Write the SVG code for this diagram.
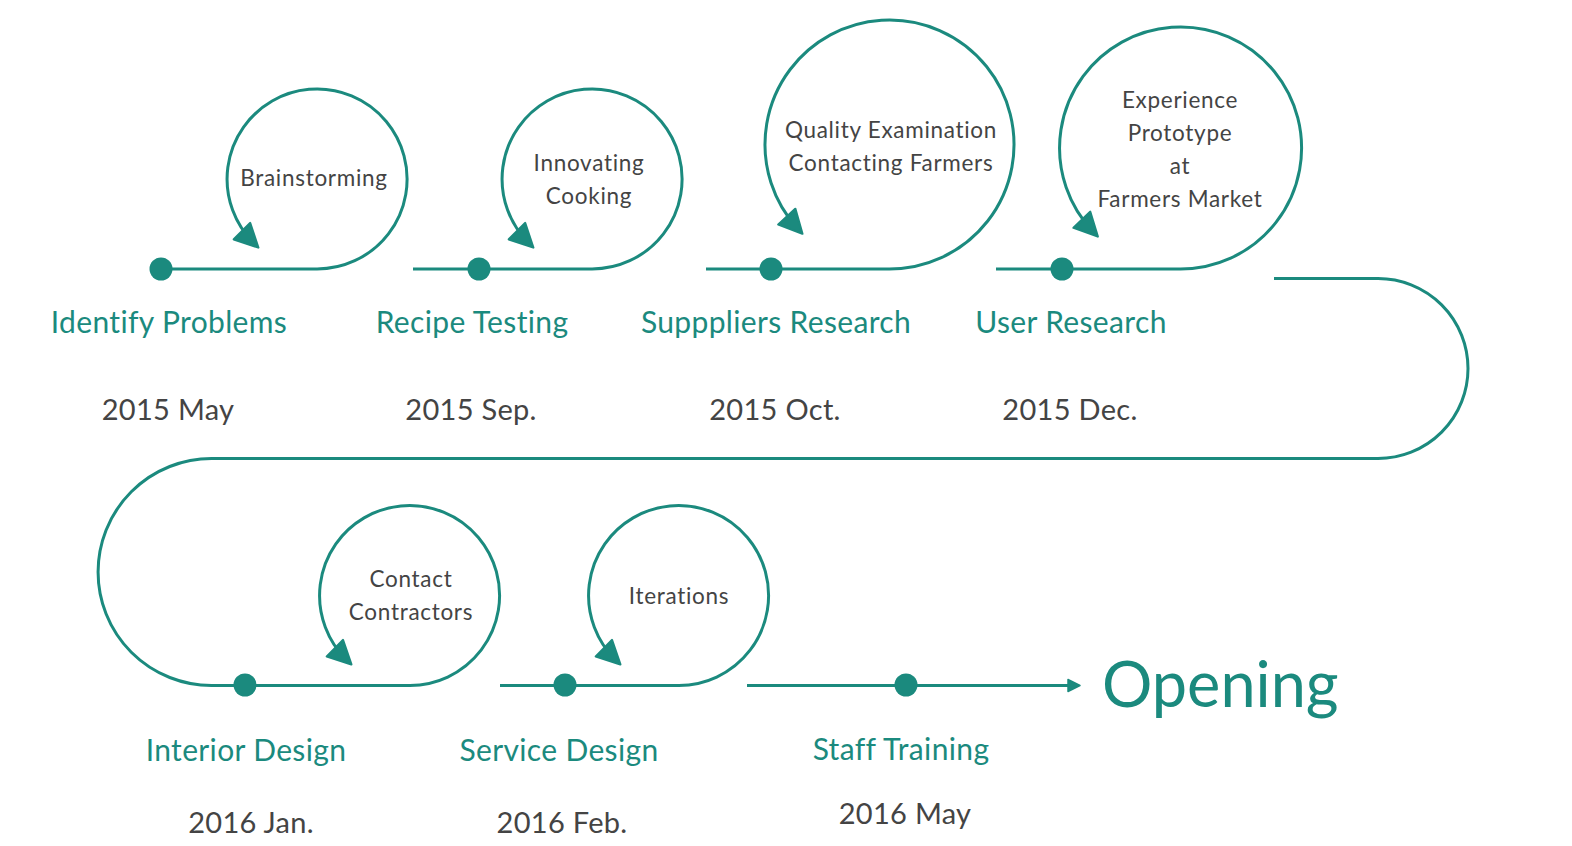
<svg xmlns="http://www.w3.org/2000/svg" width="1572" height="846" viewBox="0 0 1572 846">
<defs>
<style>
.ln{fill:none;stroke:#1b8a7e;stroke-width:3}
.dot{fill:#1b8a7e}
.lbl{font-family:Lato,"Open Sans","Liberation Sans",sans-serif;font-size:30px;letter-spacing:0.35px;fill:#1b8a7e;text-anchor:middle}
.date{font-family:Lato,"Open Sans","Liberation Sans",sans-serif;font-size:29px;letter-spacing:0.3px;fill:#444;text-anchor:middle}
.note{font-family:Lato,"Open Sans","Liberation Sans",sans-serif;font-size:22.5px;letter-spacing:0.7px;fill:#444;text-anchor:middle}
.big{font-family:Lato,"Open Sans","Liberation Sans",sans-serif;font-size:63px;fill:#1b8a7e}
</style>
<marker id="ah" markerUnits="userSpaceOnUse" markerWidth="30" markerHeight="30" viewBox="-16 -12 26 24" refX="0" refY="0" orient="auto">
<path d="M-14,-10 L6,0 L-14,10 Z" fill="#1b8a7e" stroke="#1b8a7e" stroke-width="2" stroke-linejoin="round"/>
</marker>
<marker id="ahs" markerUnits="userSpaceOnUse" markerWidth="16" markerHeight="16" viewBox="-6 -8 16 16" refX="0" refY="0" orient="auto">
<path d="M-4,-6 L8,0 L-4,6 Z" fill="#1b8a7e" stroke="#1b8a7e" stroke-width="1.5" stroke-linejoin="round"/>
</marker>
</defs>
<rect width="1572" height="846" fill="#fff"/>
<g id="connectors">
<path class="ln" d="M161 269 H317 A90 90 0 1 0 253.4 242.6" marker-end="url(#ah)"/>
<path class="ln" d="M413 269 H592 A90 90 0 1 0 528.4 242.6" marker-end="url(#ah)"/>
<path class="ln" d="M706 269 H889.5 A124.5 124.5 0 1 0 797.7 228.6" marker-end="url(#ah)"/>
<path class="ln" d="M996 269 H1180 A121 121 0 1 0 1093 231.5" marker-end="url(#ah)"/>
<path class="ln" d="M1274 278.5 H1378 A90 90 0 0 1 1378 458.5 H211.5 A113.5 113.5 0 0 0 211.5 685.5 H214"/>
<path class="ln" d="M214 685.5 H410 A90 90 0 1 0 346.4 659.6" marker-end="url(#ah)"/>
<path class="ln" d="M500 685.5 H679 A90 90 0 1 0 615.4 659.6" marker-end="url(#ah)"/>
<path class="ln" d="M747 685.5 H1072" marker-end="url(#ahs)"/>
</g>
<g id="n1"><circle class="dot" cx="161" cy="269" r="11.5"/><text class="note" x="314" y="186">Brainstorming</text><text class="lbl" x="169" y="333">Identify Problems</text><text class="date" x="168" y="420">2015 May</text></g>
<g id="n2"><circle class="dot" cx="479" cy="269" r="11.5"/><text class="note" x="589" y="171">Innovating</text><text class="note" x="589" y="204">Cooking</text><text class="lbl" x="472" y="333">Recipe Testing</text><text class="date" x="471" y="420">2015 Sep.</text></g>
<g id="n3"><circle class="dot" cx="771" cy="269" r="11.5"/><text class="note" x="891" y="138">Quality Examination</text><text class="note" x="891" y="171">Contacting Farmers</text><text class="lbl" x="776" y="333">Supppliers Research</text><text class="date" x="775" y="420">2015 Oct.</text></g>
<g id="n4"><circle class="dot" cx="1062" cy="269" r="11.5"/><text class="note" x="1180" y="108">Experience</text><text class="note" x="1180" y="141">Prototype</text><text class="note" x="1180" y="174">at</text><text class="note" x="1180" y="207">Farmers Market</text><text class="lbl" x="1071" y="333">User Research</text><text class="date" x="1070" y="420">2015 Dec.</text></g>
<g id="n5"><circle class="dot" cx="245" cy="685" r="11.5"/><text class="note" x="411" y="587">Contact</text><text class="note" x="411" y="620">Contractors</text><text class="lbl" x="246" y="761">Interior Design</text><text class="date" x="251" y="833">2016 Jan.</text></g>
<g id="n6"><circle class="dot" cx="565" cy="685" r="11.5"/><text class="note" x="679" y="604">Iterations</text><text class="lbl" x="559" y="761">Service Design</text><text class="date" x="562" y="833">2016 Feb.</text></g>
<g id="n7"><circle class="dot" cx="906" cy="685" r="11.5"/><text class="lbl" x="901" y="760">Staff Training</text><text class="date" x="905" y="824">2016 May</text></g>
<g id="n8"><text class="big" x="1102" y="707">Opening</text></g>
</svg>
